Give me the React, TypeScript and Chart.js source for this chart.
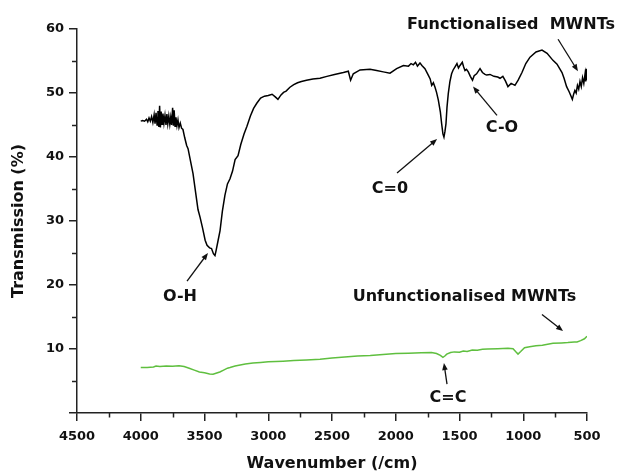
import React, { useEffect, useRef } from 'react';
import { Chart, registerables } from 'chart.js';

Chart.register(...registerables);

// ---------- DATA ----------
const functionalisedWavenumber = [
  4000, 3985, 3970, 3955, 3945, 3935, 3925, 3915, 3905, 3895, 3888, 3880, 3872, 3865, 3858, 3852, 3846, 3840,
  3833, 3826, 3818, 3810, 3802, 3795, 3788, 3780, 3772, 3765, 3758, 3750, 3744, 3738, 3731, 3724, 3716, 3708,
  3700, 3690, 3680, 3669, 3655, 3640, 3629, 3610, 3590, 3570, 3551, 3535, 3515, 3495, 3480, 3460, 3445, 3430,
  3418, 3410, 3395, 3378, 3360, 3340, 3320, 3300, 3280, 3260, 3237, 3215, 3190, 3167, 3140, 3115, 3090, 3060,
  3030, 3000, 2970, 2945, 2924, 2900, 2880, 2860, 2830, 2800, 2770, 2740, 2700, 2650, 2594, 2540, 2480, 2411,
  2372, 2354, 2333, 2280, 2202, 2150, 2098, 2045, 1993, 1940, 1900, 1880, 1862, 1845, 1830, 1810, 1795, 1771,
  1745, 1730, 1718, 1705, 1692, 1680, 1666, 1650, 1640, 1630, 1622, 1614, 1606, 1598, 1588, 1575, 1562, 1550,
  1535, 1520, 1508, 1496, 1478, 1468, 1457, 1445, 1431, 1415, 1398, 1385, 1366, 1339, 1320, 1300, 1287, 1261,
  1230, 1200, 1182, 1160, 1140, 1120, 1095, 1065, 1040, 1010, 980, 947, 900, 853, 813, 767, 735, 696, 680, 660,
  640, 625, 615, 605, 595, 585, 575, 565, 555, 545, 535, 525, 515, 510, 505, 502, 500,
];
const functionalisedTransmission = [
  45.6, 45.7, 45.6, 45.9, 45.5, 46.1, 45.6, 46.3, 45.4, 46.6, 45.2, 46.9, 45.0, 47.2, 44.7, 48.0, 44.6, 47.1,
  45.1, 46.8, 45.3, 46.5, 45.0, 46.7, 45.2, 46.4, 45.1, 46.2, 45.0, 47.7, 44.9, 47.3, 44.8, 46.2, 44.9, 45.8,
  44.6, 45.3, 44.5, 44.3, 43.0, 41.8, 41.3, 39.4, 37.4, 34.5, 31.8, 30.6, 28.9, 27.0, 26.2, 25.8, 25.7, 24.9,
  24.6, 25.3, 26.8, 28.5, 31.5, 34.0, 35.8, 36.6, 37.8, 39.6, 40.2, 42.0, 43.6, 44.8, 46.4, 47.6, 48.4, 49.2,
  49.5, 49.6, 49.8, 49.4, 49.0, 49.7, 50.1, 50.3, 50.9, 51.3, 51.6, 51.8, 52.0, 52.2, 52.3, 52.6, 52.9, 53.2,
  53.4, 52.0, 53.0, 53.6, 53.7, 53.5, 53.3, 53.1, 53.8, 54.3, 54.2, 54.6, 54.4, 54.8, 54.2, 54.7, 54.3, 53.8,
  52.8, 52.2, 51.2, 51.6, 50.9, 50.1, 48.9, 47.0, 45.2, 43.6, 43.1, 44.0, 45.2, 47.8, 49.9, 51.8, 53.0, 53.6,
  54.1, 54.6, 53.9, 54.3, 54.8, 54.1, 53.5, 53.7, 53.3, 52.6, 52.0, 52.7, 53.0, 53.8, 53.2, 52.9, 52.8, 52.9,
  52.6, 52.5, 52.3, 52.6, 51.9, 51.0, 51.5, 51.2, 52.0, 53.2, 54.6, 55.6, 56.4, 56.7, 56.2, 55.1, 54.5, 53.2,
  52.3, 51.0, 50.2, 49.5, 49.0, 49.8, 50.4, 50.0, 51.2, 50.6, 51.8, 51.0, 52.4, 51.5, 53.0, 51.8, 53.8, 52.0, 53.6,
];

const unfunctionalisedWavenumber = [
  4000, 3950, 3900, 3880, 3850, 3800, 3750, 3700, 3660, 3620, 3580, 3540, 3500, 3460, 3433, 3410, 3380, 3350,
  3320, 3300, 3260, 3220, 3180, 3120, 3060, 3000, 2940, 2884, 2800, 2700, 2594, 2500, 2400, 2300, 2200, 2100,
  2000, 1900, 1800, 1720, 1680, 1650, 1630, 1615, 1600, 1570, 1540, 1500, 1470, 1440, 1400, 1360, 1320, 1280,
  1200, 1120, 1080, 1060, 1041, 1020, 990, 950, 900, 850, 767, 700, 650, 600, 578, 550, 520, 500,
];
const unfunctionalisedTransmission = [
  7.1, 7.1, 7.2, 7.35, 7.25, 7.35, 7.3, 7.4, 7.25, 7.0, 6.7, 6.4, 6.3, 6.1, 6.05, 6.2, 6.4, 6.7,
  7.0, 7.1, 7.35, 7.5, 7.65, 7.8, 7.9, 8.0, 8.05, 8.1, 8.2, 8.3, 8.4, 8.6, 8.75, 8.9, 9.0, 9.15,
  9.3, 9.35, 9.4, 9.45, 9.3, 9.0, 8.7, 8.9, 9.2, 9.45, 9.55, 9.5, 9.7, 9.6, 9.85, 9.8, 9.95, 10.0,
  10.05, 10.1, 10.05, 9.6, 9.2, 9.6, 10.2, 10.35, 10.5, 10.6, 10.9, 10.95, 11.0, 11.1, 11.1, 11.3, 11.6, 12.0,
];

const seriesNames = ['Functionalised MWNTs', 'Unfunctionalised MWNTs'];

// annotation texts and anchors (data units: wavenumber, transmission)
const annotationTexts = ['Functionalised  MWNTs', 'C-O', 'C=0', 'O-H', 'Unfunctionalised MWNTs', 'C=C'];
const annotationTextAt = [[1096, 60.6], [1167, 44.5], [2045, 35.1], [3692, 18.2], [1461, 18.1], [1590, 2.3]];
const annotationArrowFrom = [[727, 58.4], [1206, 46.5], [1990, 37.5], [3637, 20.6], [853, 15.4], [1598, 4.5]];
const annotationArrowTo = [[571, 53.4], [1394, 51.0], [1676, 42.8], [3473, 25.0], [688, 12.8], [1622, 7.8]];

const xTitle = 'Wavenumber (/cm)';
const yTitle = 'Transmission (%)';

// ---------- STYLE ----------
const FONT = '"DejaVu Sans", Verdana, sans-serif';
const AXIS_COLOR = '#222222';
const TEXT_COLOR = '#111111';

const minorTicksPlugin = {
  id: 'minorTicks',
  afterDraw(chart: any) {
    const ctx = chart.ctx;
    const xs = chart.scales.x;
    const ys = chart.scales.y;
    ctx.save();
    ctx.strokeStyle = AXIS_COLOR;
    ctx.lineWidth = 1.5;
    const xt = xs.ticks.map((t: any) => t.value).sort((a: number, b: number) => a - b);
    for (let i = 0; i < xt.length - 1; i++) {
      const px = Math.round(xs.getPixelForValue((xt[i] + xt[i + 1]) / 2)) + 0.5;
      ctx.beginPath();
      ctx.moveTo(px, xs.top);
      ctx.lineTo(px, xs.top + 4.5);
      ctx.stroke();
    }
    const yt = ys.ticks.map((t: any) => t.value).sort((a: number, b: number) => a - b);
    for (let i = 0; i < yt.length - 1; i++) {
      const py = Math.round(ys.getPixelForValue((yt[i] + yt[i + 1]) / 2)) + 0.5;
      ctx.beginPath();
      ctx.moveTo(ys.right, py);
      ctx.lineTo(ys.right - 5, py);
      ctx.stroke();
    }
    ctx.restore();
  },
};

const annotationPlugin = {
  id: 'annotations',
  afterDatasetsDraw(chart: any) {
    const ctx = chart.ctx;
    const xs = chart.scales.x;
    const ys = chart.scales.y;
    ctx.save();
    ctx.fillStyle = TEXT_COLOR;
    ctx.strokeStyle = TEXT_COLOR;
    ctx.font = `bold 16px ${FONT}`;
    ctx.textAlign = 'center';
    ctx.textBaseline = 'middle';
    annotationTexts.forEach((txt, i) => {
      const tx = xs.getPixelForValue(annotationTextAt[i][0]);
      const ty = ys.getPixelForValue(annotationTextAt[i][1]);
      ctx.fillText(txt, tx, ty);
      const x1 = xs.getPixelForValue(annotationArrowFrom[i][0]);
      const y1 = ys.getPixelForValue(annotationArrowFrom[i][1]);
      const x2 = xs.getPixelForValue(annotationArrowTo[i][0]);
      const y2 = ys.getPixelForValue(annotationArrowTo[i][1]);
      const ang = Math.atan2(y2 - y1, x2 - x1);
      const hl = 7;
      const hw = 2.8;
      ctx.lineWidth = 1.3;
      ctx.beginPath();
      ctx.moveTo(x1, y1);
      ctx.lineTo(x2 - Math.cos(ang) * hl * 0.8, y2 - Math.sin(ang) * hl * 0.8);
      ctx.stroke();
      ctx.beginPath();
      ctx.moveTo(x2, y2);
      ctx.lineTo(x2 - Math.cos(ang) * hl - Math.sin(ang) * hw, y2 - Math.sin(ang) * hl + Math.cos(ang) * hw);
      ctx.lineTo(x2 - Math.cos(ang) * hl + Math.sin(ang) * hw, y2 - Math.sin(ang) * hl - Math.cos(ang) * hw);
      ctx.closePath();
      ctx.fill();
    });
    ctx.restore();
  },
};

export default function App() {
  const canvasRef = useRef<HTMLCanvasElement | null>(null);

  useEffect(() => {
    if (!canvasRef.current) return;
    const toPoints = (xs: number[], ys: number[]) => xs.map((x, i) => ({ x, y: ys[i] }));
    const chart = new Chart(canvasRef.current, {
      type: 'line',
      data: {
        datasets: [
          {
            label: seriesNames[0],
            data: toPoints(functionalisedWavenumber, functionalisedTransmission),
            borderColor: '#000000',
            borderWidth: 1.5,
            pointRadius: 0,
            tension: 0,
            fill: false,
          },
          {
            label: seriesNames[1],
            data: toPoints(unfunctionalisedWavenumber, unfunctionalisedTransmission),
            borderColor: '#5fbf3f',
            borderWidth: 1.5,
            pointRadius: 0,
            tension: 0,
            fill: false,
          },
        ],
      },
      options: {
        responsive: false,
        animation: false,
        devicePixelRatio: 1,
        layout: { padding: { left: 0, top: 29, right: 35, bottom: 0 } },
        plugins: { legend: { display: false }, tooltip: { enabled: false } },
        scales: {
          x: {
            type: 'linear',
            reverse: true,
            min: 500,
            max: 4500,
            afterFit(scale: any) {
              scale.height = 59;
            },
            ticks: {
              stepSize: 500,
              padding: 8,
              color: TEXT_COLOR,
              font: { family: FONT, weight: 'bold', size: 13 },
              maxRotation: 0,
              autoSkip: false,
              callback: (v: any) => String(v),
            },
            grid: { drawOnChartArea: false, drawTicks: true, tickLength: 8, color: AXIS_COLOR, lineWidth: 1.5 },
            border: { display: true, color: AXIS_COLOR, width: 1.5 },
            title: {
              display: true,
              text: xTitle,
              color: TEXT_COLOR,
              font: { family: FONT, weight: 'bold', size: 16 },
              padding: { top: 0, bottom: -1 },
            },
          },
          y: {
            type: 'linear',
            min: 0,
            max: 60,
            afterFit(scale: any) {
              scale.width = 77;
            },
            ticks: {
              stepSize: 10,
              padding: 5,
              color: TEXT_COLOR,
              font: { family: FONT, weight: 'bold', size: 13 },
              callback: (v: any) => (v === 0 ? '' : String(v)),
            },
            grid: { drawOnChartArea: false, drawTicks: true, tickLength: 8, color: AXIS_COLOR, lineWidth: 1.5 },
            border: { display: true, color: AXIS_COLOR, width: 1.5 },
            title: {
              display: true,
              text: yTitle,
              color: TEXT_COLOR,
              font: { family: FONT, weight: 'bold', size: 16 },
              padding: { top: 9, bottom: 0 },
            },
          },
        },
      },
      plugins: [minorTicksPlugin, annotationPlugin],
    } as any);
    return () => chart.destroy();
  }, []);

  return (
    <div style={{ position: 'absolute', left: 0, top: 0, width: 622, height: 472, background: '#ffffff' }}>
      <canvas ref={canvasRef} width={622} height={472} style={{ display: 'block' }} />
    </div>
  );
}
